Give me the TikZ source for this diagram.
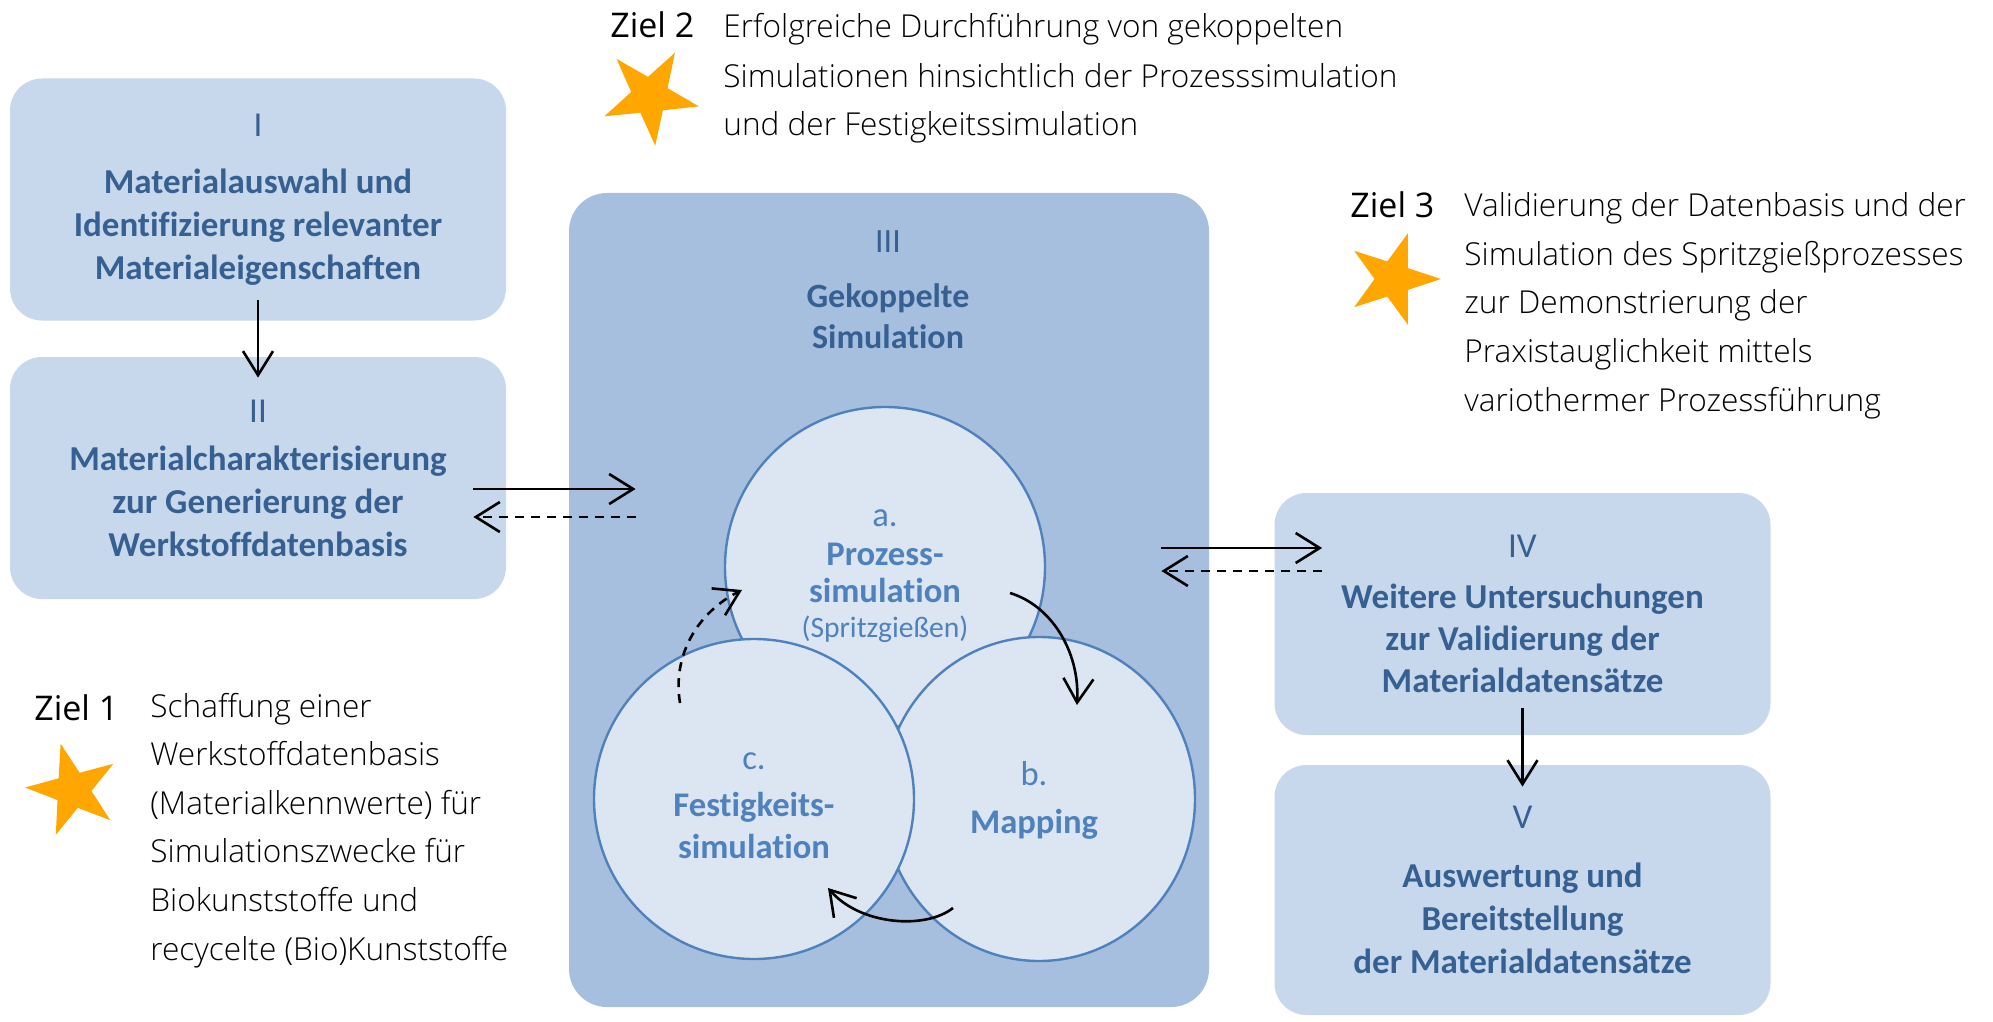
\documentclass[tikz,border=0pt]{standalone}
\usepackage{fontspec}
\setmainfont{Carlito}[Ligatures=NoCommon]
\newfontfamily\goalfont{Open Sans Light}
\newfontfamily\goalheadfont{Open Sans}
\usetikzlibrary{shapes.geometric,arrows.meta,calc,positioning}

\definecolor{boxfill}{HTML}{C8D8EC}
\definecolor{bigfill}{HTML}{A7BFDE}
\definecolor{circfill}{HTML}{DCE6F2}
\definecolor{circline}{HTML}{4F81BD}
\definecolor{darkblue}{HTML}{376092}
\definecolor{starorange}{HTML}{FFA600}

\tikzset{
  stage/.style={fill=boxfill, rounded corners=16pt, minimum width=248pt,
    minimum height=121pt, inner sep=0pt, align=center, text=darkblue,
    font=\fontsize{17.5}{21.5}\selectfont},
  subsim/.style={ellipse, fill=circfill, draw=circline, line width=1.2pt,
    minimum width=160pt, minimum height=160pt, inner sep=0pt},
  simtext/.style={inner sep=0pt, align=center, text=circline,
    font=\fontsize{17.3}{21}\selectfont},
  goalstar/.style={star, star points=5, star point ratio=2.6,
    fill=starorange, minimum size=50pt, inner sep=0pt},
  goalhead/.style={anchor=base west, inner sep=0pt,
    font=\goalheadfont\fontsize{17}{24}\selectfont},
  goaltext/.style={anchor=base west, inner sep=0pt, align=left,
    font=\goalfont\fontsize{15.8}{24.3}\selectfont},
  arr/.style={-{Straight Barb[length=12pt,width=15pt]}, line width=1.3pt},
  dasharr/.style={arr, dash pattern=on 4.5pt off 3.5pt},
}

\begin{document}
\begin{tikzpicture}[x=0.5pt, y=-0.5pt]
  \useasboundingbox (0,0) rectangle (1993,1022);

  % stages I, II, IV, V
  \node[stage] (boxI) at (258,199.5)
    {I\\[7pt]\textbf{Materialauswahl und}\\\textbf{Identifizierung relevanter}\\\textbf{Materialeigenschaften}};
  \node[stage] (boxII) at (258,478)
    {II\\[2.5pt]\textbf{Materialcharakterisierung}\\\textbf{zur Generierung der}\\\textbf{Werkstoffdatenbasis}};
  \node[stage, font=\fontsize{17.5}{21}\selectfont] (boxIV) at (1522.5,614)
    {IV\\[4.5pt]\textbf{Weitere Untersuchungen}\\\textbf{zur Validierung der}\\\textbf{Materialdatensätze}};
  \node[stage, minimum height=125pt] (boxV) at (1522.5,890)
    {V\\[8pt]\textbf{Auswertung und}\\\textbf{Bereitstellung}\\\textbf{der Materialdatensätze}};

  % stage III with the coupled simulation
  \node[fill=bigfill, rounded corners=19pt, minimum width=320pt,
    minimum height=407pt, inner sep=0pt] (boxIII) at (889,600) {};
  \node[anchor=north, inner sep=0pt, align=center, text=darkblue,
    font=\fontsize{17}{20.5}\selectfont] (titleIII) at (888,230)
    {III\\[7pt]\textbf{Gekoppelte}\\\textbf{Simulation}};

  \node[subsim] (circA) at (885,567) {};
  \node[subsim, minimum width=156pt, minimum height=162pt] (circB) at (1039,799) {};
  \node[subsim] (circC) at (754,799) {};
  \node[simtext, font=\fontsize{17.3}{18.5}\selectfont] (txtA) at ($(circA)+(0,9)$)
    {a.\\[1pt]\textbf{Prozess-}\\\textbf{simulation}\\[-0.7pt]{\fontsize{14.8}{17}\selectfont(Spritzgießen)}};
  \node[simtext] (txtB) at ($(circB)+(-5,1)$) {b.\\[3pt]\textbf{Mapping}};
  \node[simtext] (txtC) at ($(circC)+(0,7)$) {c.\\[2.5pt]\textbf{Festigkeits-}\\\textbf{simulation}};

  % connectors
  \draw[arr] ($(boxI.south)+(0,-21)$) -- ($(boxII.north)+(0,21)$);
  \draw[arr] ($(boxIV.south)+(0,-27)$) -- ($(boxV.north)+(0,22)$);
  \draw[arr] ($(boxII.east)+(-33,11)$) -- ($(boxIII.west)+(67,-111)$);
  \draw[dasharr] ($(boxIII.west)+(67,-83)$) -- ($(boxII.east)+(-33,39)$);
  \draw[arr] ($(boxIII.east)+(-48,-52)$) -- ($(boxIV.west)+(48,-66)$);
  \draw[dasharr] ($(boxIV.west)+(48,-43)$) -- ($(boxIII.east)+(-48,-29)$);

  \draw[arr] ($(circA)+(125,26)$) .. controls +(40,12) and +(3,-55) .. ($(circB)+(38,-94)$);
  \draw[arr] ($(circB)+(-86,109)$) .. controls +(-28,22) and +(32,37) .. ($(circC)+(74,89)$);
  \draw[dasharr] ($(circC)+(-74,-96)$) .. controls +(-8,-48) and +(-44,22) .. ($(circA)+(-143,23)$);

  % goals
  \node[goalstar, rotate=-30] (star2) at (650,96) {};
  \node[goalhead] (ziel2) at (610,38) {Ziel 2};
  \node[goaltext, font=\goalfont\fontsize{15.8}{24.5}\selectfont] (goal2) at (723,136)
    {Erfolgreiche Durchführung von gekoppelten\\Simulationen hinsichtlich der Prozesssimulation\\und der Festigkeitssimulation};

  \node[goalstar, rotate=-18, minimum size=48pt] (star3) at (1393,279) {};
  \node[goalhead] (ziel3) at (1350,218) {Ziel 3};
  \node[goaltext] (goal3) at (1464,411)
    {Validierung der Datenbasis und der\\Simulation des Spritzgießprozesses\\zur Demonstrierung der\\Praxistauglichkeit mittels\\variothermer Prozessführung};

  \node[goalstar, rotate=15, minimum size=48pt] (star1) at (73,790) {};
  \node[goalhead] (ziel1) at (34,720) {Ziel 1};
  \node[goaltext] (goal1) at (150,960)
    {Schaffung einer\\Werkstoffdatenbasis\\(Materialkennwerte) für\\Simulationszwecke für\\Biokunststoffe und\\recycelte (Bio)Kunststoffe};
\end{tikzpicture}
\end{document}
